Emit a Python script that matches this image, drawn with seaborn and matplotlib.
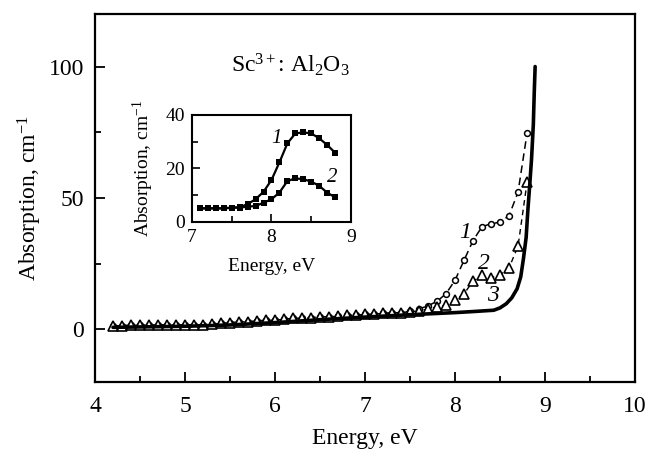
import numpy as np
import matplotlib
matplotlib.use("Agg")
import matplotlib.pyplot as plt
from matplotlib.ticker import MultipleLocator
import seaborn as sns

# --- main panel: absorption spectra (cm^-1) vs photon energy (eV) ---
energy = np.round(np.arange(4.2, 8.81, 0.1), 2)

# curve 2 (open triangles)
curve2 = [1.4, 1.4, 1.6, 1.6, 1.6, 1.7, 1.7, 1.7,
          1.8, 1.8, 1.8, 2.0, 2.3, 2.6, 2.9, 2.9, 3.2, 3.5,
          3.5, 3.9, 4.2, 4.2, 4.4, 4.8, 4.8, 5.0, 5.4, 5.4,
          5.7, 5.8, 6.1, 6.3, 6.4, 6.7, 7.1, 7.7, 8.6, 9.2,
          11.1, 13.6, 18.3, 20.6, 19.7, 20.8, 23.4, 31.7, 55.9]

# curve 1 (open circles), same as curve 2 below 7.5 eV
curve1 = [1.4, 1.4, 1.6, 1.6, 1.6, 1.7, 1.7, 1.7,
          1.8, 1.8, 1.8, 2.0, 2.3, 2.6, 2.9, 2.9, 3.2, 3.5,
          3.5, 3.9, 4.2, 4.2, 4.4, 4.8, 4.8, 5.0, 5.4, 5.4,
          5.7, 5.8, 6.1, 6.3, 6.4, 7.0, 7.8, 9.0, 10.7, 13.6,
          18.7, 26.3, 33.8, 39.1, 40.2, 40.8, 43.3, 52.2, 74.6]

# curve 3 (thick solid line)
energy3 = [4.2, 5.0, 5.5, 6.0, 6.5, 7.0, 7.5, 8.0, 8.2, 8.43, 8.5, 8.57,
           8.63, 8.69, 8.73, 8.76, 8.79, 8.81, 8.83, 8.85, 8.87, 8.88, 8.89]
curve3 = [0.8, 1.2, 1.7, 2.6, 3.7, 4.7, 5.6, 6.4, 6.8, 7.3, 8.2, 9.8,
          12.0, 15.5, 20.0, 26.9, 35.0, 45.8, 55.0, 64.8, 78.0, 90.0, 100.0]

# --- inset: difference spectra ---
inset_energy = np.round(np.arange(7.1, 8.81, 0.1), 2)
inset1 = [5.1, 5.1, 5.1, 5.1, 5.4, 5.5, 6.7, 8.5, 11.3, 15.7,
          22.3, 29.4, 33.1, 33.5, 33.1, 31.3, 28.8, 25.9]
inset2 = [5.1, 5.1, 5.1, 5.1, 5.3, 5.4, 5.7, 6.0, 7.2, 8.5,
          11.0, 15.3, 16.3, 16.0, 15.1, 13.5, 11.0, 9.2]

sns.set_theme(style="ticks")
plt.rcParams["font.family"] = ["Liberation Serif", "DejaVu Serif"]
plt.rcParams["mathtext.fontset"] = "custom"
plt.rcParams["mathtext.rm"] = "Liberation Serif"
plt.rcParams["mathtext.it"] = "Liberation Serif:italic"
for k in ["text.color", "axes.labelcolor", "xtick.color", "ytick.color"]:
    plt.rcParams[k] = "black"

fig = plt.figure(figsize=(6.53, 4.5), dpi=100)
ax = fig.add_axes([0.1455, 0.1511, 0.827, 0.8178])

sns.lineplot(x=energy, y=curve1, ax=ax, color="black", lw=1.1,
             linestyle=(0, (5, 3)), marker="o", markersize=4.2,
             markerfacecolor="white", markeredgecolor="black",
             markeredgewidth=1.1, zorder=2)
sns.lineplot(x=energy, y=curve2, ax=ax, color="black", lw=1.0,
             linestyle=(0, (4, 3)), marker="^", markersize=6.5,
             markerfacecolor="white", markeredgecolor="black",
             markeredgewidth=1.2, zorder=3)
sns.lineplot(x=energy3, y=curve3, ax=ax, color="black", lw=2.6, zorder=4)

ax.set_xlim(4, 10)
ax.set_ylim(-20, 120)
ax.xaxis.set_major_locator(MultipleLocator(1))
ax.xaxis.set_minor_locator(MultipleLocator(0.5))
ax.yaxis.set_major_locator(MultipleLocator(50))
ax.yaxis.set_minor_locator(MultipleLocator(25))
ax.tick_params(which="both", direction="in", width=1.3, labelsize=17,
               top=False, right=False)
ax.tick_params(which="major", length=7)
ax.tick_params(which="minor", length=4)
ax.tick_params(axis="x", which="major", pad=10)
ax.tick_params(axis="y", which="major", pad=8)
for s in ax.spines.values():
    s.set_linewidth(1.6)
    s.set_color("black")
ax.set_xlabel("Energy, eV", fontsize=17, labelpad=8)
ax.set_ylabel("Absorption, cm$^{-1}$", fontsize=17, labelpad=3)

ax.text(6.17, 100.8, "Sc$^{3+}$: Al$_2$O$_3$", fontsize=17,
        ha="center", va="center")
ax.text(8.11, 37, "1", fontsize=17, style="italic", ha="center", va="center")
ax.text(8.32, 25, "2", fontsize=17, style="italic", ha="center", va="center")
ax.text(8.42, 12.8, "3", fontsize=17, style="italic", ha="center", va="center")

# inset
axi = fig.add_axes([0.294, 0.5067, 0.2435, 0.2378])
sns.lineplot(x=inset_energy, y=inset1, ax=axi, color="black", lw=1.6,
             marker="s", markersize=4.8, markeredgewidth=0)
sns.lineplot(x=inset_energy, y=inset2, ax=axi, color="black", lw=1.6,
             marker="s", markersize=4.8, markeredgewidth=0)
axi.set_xlim(7, 9)
axi.set_ylim(0, 40)
axi.xaxis.set_major_locator(MultipleLocator(1))
axi.xaxis.set_minor_locator(MultipleLocator(0.5))
axi.yaxis.set_major_locator(MultipleLocator(20))
axi.yaxis.set_minor_locator(MultipleLocator(10))
axi.tick_params(which="both", direction="in", width=1.2, labelsize=14,
                top=False, right=False)
axi.tick_params(which="major", length=6, pad=5)
axi.tick_params(which="minor", length=4)
for s in axi.spines.values():
    s.set_linewidth(1.5)
    s.set_color("black")
axi.set_xlabel("Energy, eV", fontsize=14, labelpad=9)
axi.set_ylabel("Absorption, cm$^{-1}$", fontsize=14, labelpad=7)
axi.text(8.06, 31.3, "1", fontsize=15, style="italic", ha="center", va="center")
axi.text(8.77, 16.7, "2", fontsize=15, style="italic", ha="center", va="center")

fig.savefig("out.png", dpi=100)
